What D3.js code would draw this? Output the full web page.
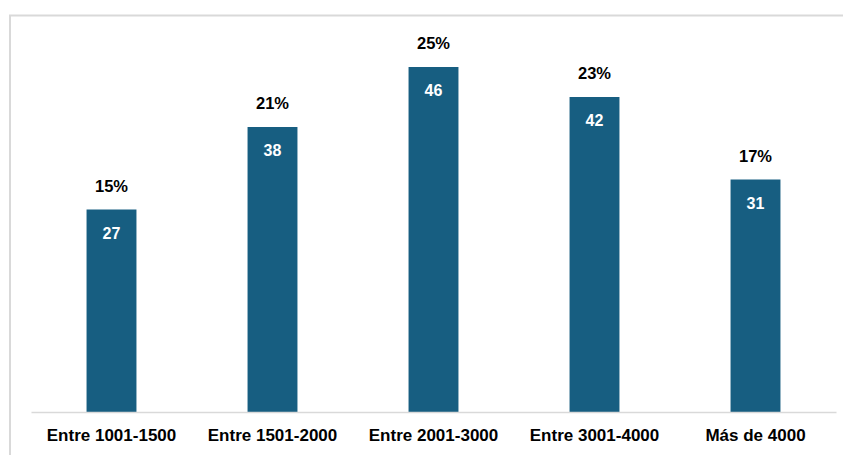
<!DOCTYPE html>
<html>
<head>
<meta charset="utf-8">
<script src="https://cdn.jsdelivr.net/npm/d3@7"></script>
<style>
  html, body { margin: 0; padding: 0; background: #ffffff; }
  svg { display: block; }
  text { font-family: "Liberation Sans", Arial, sans-serif; }
</style>
</head>
<body>
<svg id="chart" width="843" height="455"></svg>
<script>
// Distribution by range
const categories = ["Entre 1001-1500", "Entre 1501-2000", "Entre 2001-3000", "Entre 3001-4000", "Más de 4000"];
const counts = [27, 38, 46, 42, 31];
const shares = ["15%", "21%", "25%", "23%", "17%"];

const W = 843, H = 455;
const svg = d3.select("#chart");

// frame around the chart area
svg.append("path")
  .attr("d", `M10,${H} L10,15.5 L${W},15.5`)
  .attr("fill", "none")
  .attr("stroke", "#d9d9d9")
  .attr("stroke-width", 2);

const x = d3.scaleBand()
  .domain(categories)
  .range([31, 836])
  .paddingInner(0.69)
  .paddingOuter(0.345);

const baseY = 412;
const y = d3.scaleLinear().domain([0, 50]).range([baseY, baseY - 375]);

const data = categories.map((c, i) => ({ c, v: counts[i], p: shares[i] }));

svg.append("g").selectAll("rect")
  .data(data)
  .join("rect")
  .attr("x", d => x(d.c))
  .attr("y", d => y(d.v))
  .attr("width", x.bandwidth())
  .attr("height", d => y(0) - y(d.v))
  .attr("fill", "#175e81");

// baseline axis
const axis = svg.append("g")
  .attr("transform", `translate(0,${baseY})`)
  .call(d3.axisBottom(x).tickSize(0).tickPadding(17));
axis.select(".domain").attr("stroke", "#d9d9d9").attr("stroke-width", 1.5);
axis.selectAll(".tick text")
  .attr("fill", "#000")
  .style("font-size", "17px")
  .style("font-weight", "bold");

// count labels inside bars
svg.append("g").selectAll("text")
  .data(data)
  .join("text")
  .attr("x", d => x(d.c) + x.bandwidth() / 2)
  .attr("y", d => y(d.v) + 29)
  .attr("text-anchor", "middle")
  .attr("fill", "#ffffff")
  .style("font-size", "16px")
  .style("font-weight", "bold")
  .text(d => d.v);

// share labels above bars
svg.append("g").selectAll("text")
  .data(data)
  .join("text")
  .attr("x", d => x(d.c) + x.bandwidth() / 2)
  .attr("y", d => y(d.v) - 18)
  .attr("text-anchor", "middle")
  .attr("fill", "#000")
  .style("font-size", "16.5px")
  .style("font-weight", "bold")
  .text(d => d.p);
</script>
</body>
</html>
